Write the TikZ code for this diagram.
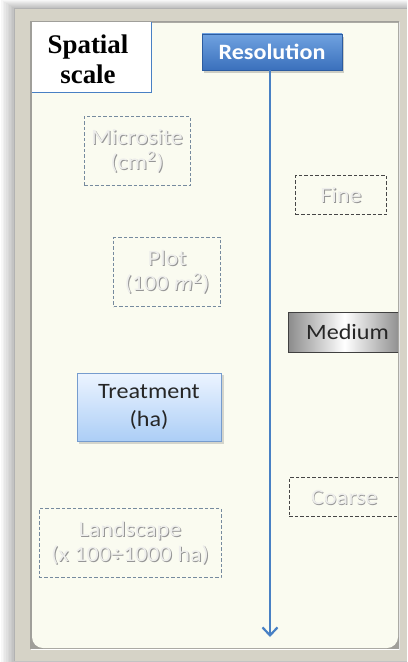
\documentclass[tikz,border=0pt]{standalone}
\usepackage{fontspec}
\newfontfamily\carlito[FakeStretch=1.1]{Carlito}
\newfontfamily\headserif{Liberation Serif}
\usetikzlibrary{arrows.meta}
\definecolor{framegray}{RGB}{214,211,199}
\definecolor{framedark}{RGB}{120,118,110}
\definecolor{panelcream}{RGB}{250,251,240}
\definecolor{lineblue}{RGB}{72,128,196}
\definecolor{resblue}{RGB}{58,112,188}
\definecolor{restop}{RGB}{112,162,224}
\definecolor{resedge}{RGB}{44,92,160}
\definecolor{trtop}{RGB}{236,244,255}
\definecolor{trbot}{RGB}{172,206,246}
\definecolor{tredge}{RGB}{118,156,206}
\definecolor{dashblue}{RGB}{118,138,158}
\definecolor{dashdark}{RGB}{70,70,70}
\definecolor{ghostfill}{RGB}{238,238,236}
\definecolor{ghostedge}{RGB}{150,150,150}
\tikzset{
  bodyfont/.style={font=\carlito\fontsize{22}{25}\selectfont},
  faintbox/.style={draw=dashblue, line width=0.9bp, dash pattern=on 3.5bp off 2bp,
    align=center, bodyfont, text=ghostfill},
  faintdark/.style={faintbox, draw=dashdark},
  ghostshade/.style={align=center, bodyfont, text=ghostedge},
  solidtext/.style={align=center, bodyfont, text=black!85},
}
\begin{document}
\begin{tikzpicture}[x=1bp,y=-1bp]
\useasboundingbox (0,0) rectangle (407,662);
\fill[white] (0,0) rectangle (407,662);
% soft shadow round the frame
\foreach \i in {1,...,8}
  \fill[black, opacity=0.03] (14-1.6*\i,8-\i) rectangle (407,662);
% outer frame with bevel
\fill[framegray] (14,8) rectangle (407,661);
\draw[black!30, line width=0.8bp] (14.5,661) -- (14.5,8.5) -- (407,8.5);
\fill[framedark!70] (30,21) rectangle (399,649);
% inner panel
\fill[panelcream] (32,23) -- (398,23) -- (398,637) arc[start angle=0,end angle=90,radius=11]
  -- (43,648) arc[start angle=90,end angle=180,radius=11] -- cycle;
\draw[white, line width=1.2bp] (31,649.5) -- (399,649.5);
\draw[white!80!gray, line width=1bp] (399.5,22) -- (399.5,650);
\begin{scope}
\clip (32,23) rectangle (398,648);
% spatial scale label
\node[draw=lineblue, fill=white, line width=1bp, minimum width=120bp, minimum height=71bp,
  anchor=north west, inner sep=0pt] (scalebox) at (31,21) {};
\node[align=center, font=\headserif\bfseries\fontsize{27}{30}\selectfont] (scale) at (88,59)
  {Spatial\\scale};
% resolution header and axis
\fill[black, opacity=0.18] (204,37) rectangle (344,73);
\node[draw=resedge, top color=restop, bottom color=resblue, line width=0.8bp,
  minimum width=140bp, minimum height=36bp, inner sep=0pt,
  text=white, font=\carlito\bfseries\fontsize{22}{25}\selectfont] (res) at (272,52) {Resolution};
\coordinate (axisend) at (270,637);
\draw[lineblue, line width=2.4bp, -{Straight Barb[length=8bp,width=15bp,line width=2.2bp]}]
  (res.south -| axisend) -- (axisend);
% spatial scales
\node[ghostshade] at (138,152) {Microsite\\(cm\textsuperscript{2})};
\node[faintbox, minimum width=106bp, minimum height=69bp, inner sep=0pt] (micro) at (137,151)
  {Microsite\\(cm\textsuperscript{2})};
\node[ghostshade] at (168,273) {Plot\\(100 \textit{m}\textsuperscript{2})};
\node[faintbox, minimum width=107bp, minimum height=69bp, inner sep=0pt] (plot) at (167,272)
  {Plot\\(100 \textit{m}\textsuperscript{2})};
\fill[black, opacity=0.15] (79,375) rectangle (224,444);
\node[draw=tredge, top color=trtop, bottom color=trbot, line width=1bp,
  minimum width=144bp, minimum height=68bp, inner sep=0pt, solidtext,
  font=\carlito\fontsize{22}{29}\selectfont] (treat) at (149,407)
  {Treatment\\(ha)};
\node[ghostshade] at (131,544) {Landscape\\(x 100÷1000 ha)};
\node[faintbox, minimum width=182bp, minimum height=69bp, inner sep=0pt] (land) at (130,543)
  {Landscape\\(x 100÷1000 ha)};
% resolutions
\node[ghostshade] at (342,196) {Fine};
\node[faintdark, minimum width=91bp, minimum height=39bp, inner sep=0pt] (fine) at (341,195) {Fine};
\node[draw=black!75, line width=1bp, left color=black!45, right color=black!45, middle color=white,
  minimum width=112bp, minimum height=40bp, inner sep=0pt, anchor=west,
  solidtext] (medium) at (288,332) {\hspace*{6bp}Medium};
\node[ghostshade] at (345,498) {Coarse};
\node[faintdark, minimum width=112bp, minimum height=39bp, inner sep=0pt, anchor=west] (coarse)
  at (289,497) {\hspace*{-2bp}Coarse};
\end{scope}
\end{tikzpicture}
\end{document}
